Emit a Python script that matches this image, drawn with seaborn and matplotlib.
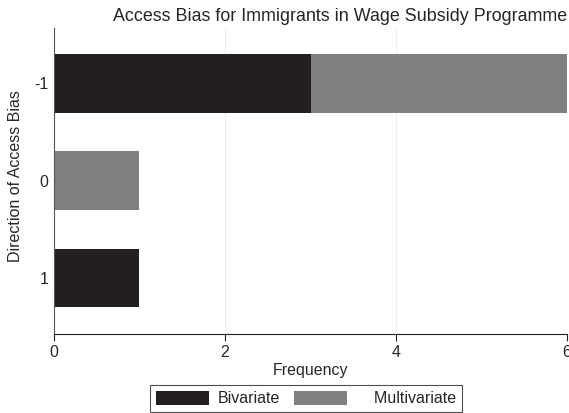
import matplotlib
matplotlib.use("Agg")
import matplotlib.pyplot as plt
import seaborn as sns
import pandas as pd
from matplotlib.patches import Patch

categories = ["-1", "0", "1"]
bivariate = [3, 0, 1]
multivariate = [3, 1, 0]
xticks = [0, 2, 4, 6]

sns.set_style("white")
plt.rcParams["font.family"] = ["Liberation Sans", "DejaVu Sans"]

fig = plt.figure(figsize=(5.69, 4.13), dpi=100)
ax = fig.add_axes([0.0949, 0.1913, 0.9016, 0.7407])

df = pd.DataFrame({"cat": categories, "biv": bivariate, "mult": multivariate})
df["total"] = df["biv"] + df["mult"]

c_biv = "#231f20"
c_mult = "#808083"
sns.barplot(data=df, y="cat", x="total", orient="h", color=c_mult, width=0.6,
            saturation=1, ax=ax, order=categories)
sns.barplot(data=df, y="cat", x="biv", orient="h", color=c_biv, width=0.6,
            saturation=1, ax=ax, order=categories)
for p in ax.patches:
    p.set_edgecolor("none")

ax.set_xlim(0, 6)
ax.set_ylim(2.58, -0.57)
ax.set_xticks(xticks)
ax.set_xticklabels([str(t) for t in xticks], fontsize=11.5)
ax.set_yticklabels(categories, fontsize=11.5)
ax.xaxis.grid(True, color="#eeeeee", linewidth=0.8)
ax.set_axisbelow(True)
for s in ["top", "right"]:
    ax.spines[s].set_visible(False)
ax.spines["left"].set_color("#555555")
ax.spines["bottom"].set_color("#222222")
ax.tick_params(axis="x", bottom=True, length=5, color="#222222", pad=3)
ax.tick_params(axis="y", left=False, length=0, pad=4)
ax.set_xlabel("Frequency", fontsize=11.5, labelpad=2)
ax.set_ylabel("Direction of Access Bias", fontsize=11.5)
ax.yaxis.set_label_coords(-0.060, 0.516)
ax.set_title("Access Bias for Immigrants in Wage Subsidy Programme", fontsize=12.9,
             loc="right", pad=5)

handles = [Patch(facecolor=c_biv, edgecolor="none"), Patch(facecolor=c_mult, edgecolor="none")]
leg = fig.legend(handles, ["Bivariate", "    Multivariate"], loc="lower center",
                 bbox_to_anchor=(0.538, 0.002), ncol=2, frameon=True, fancybox=False,
                 fontsize=11.5, handlelength=3.3, handleheight=1.0, columnspacing=0.9,
                 handletextpad=0.55, borderpad=0.375, borderaxespad=0)
leg.get_frame().set_edgecolor("#222222")
leg.get_frame().set_linewidth(0.8)

fig.savefig("out.png", dpi=100)
